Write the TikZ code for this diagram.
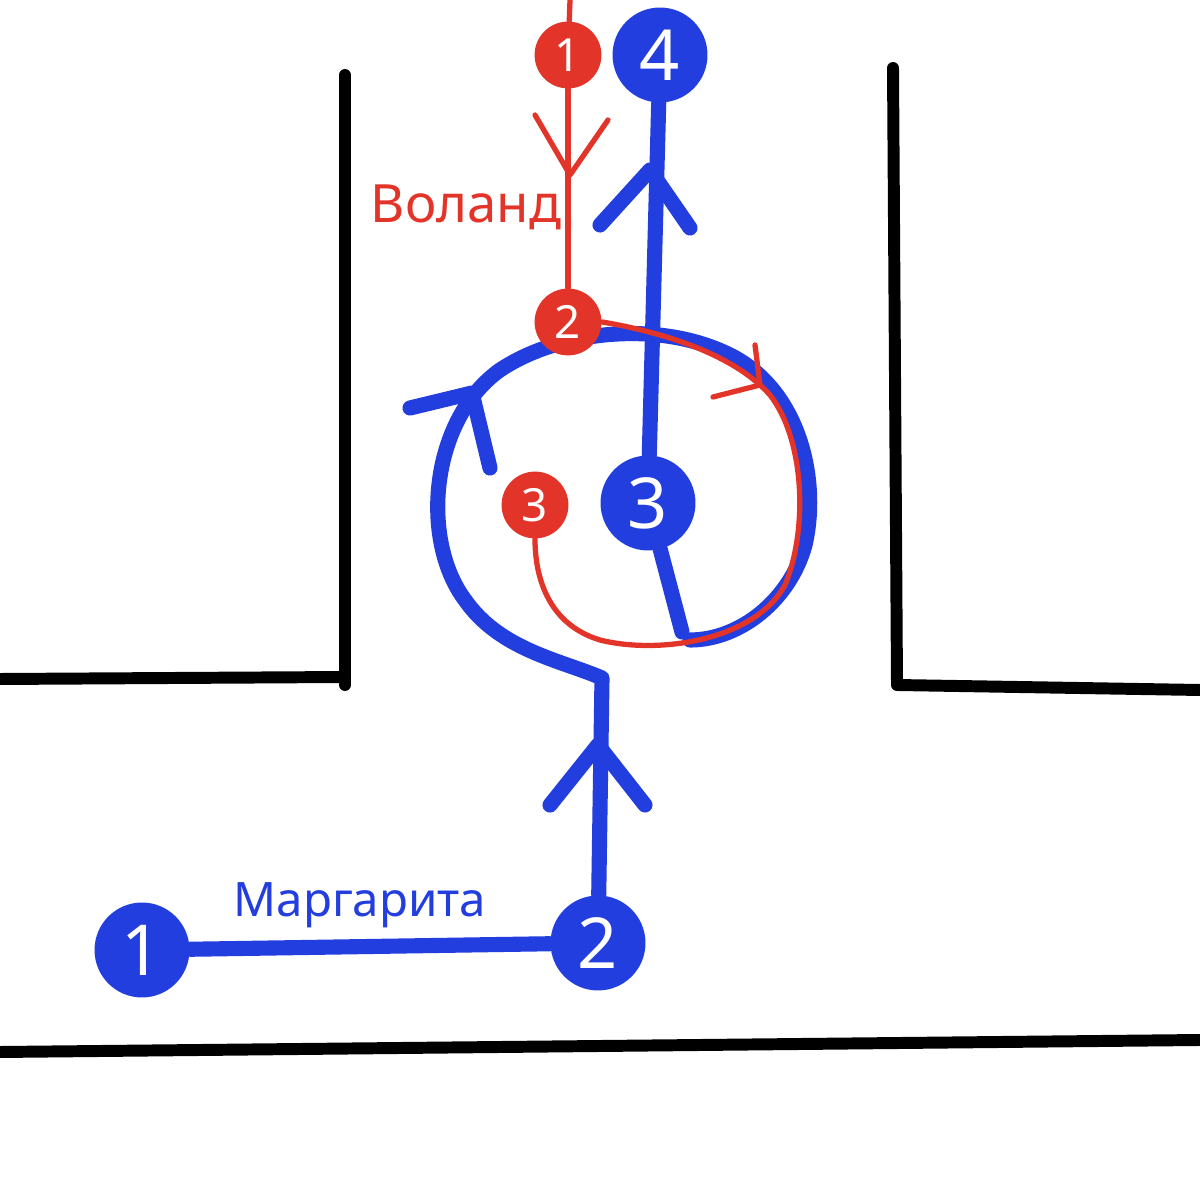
\documentclass[tikz,border=0pt]{standalone}
\usepackage{fontspec}
\setmainfont{Noto Sans}
\definecolor{bl}{RGB}{35,62,222}
\definecolor{rd}{RGB}{226,52,40}
\begin{document}
\begin{tikzpicture}[x=0.01cm,y=-0.01cm,line cap=round,line join=round,
 wall/.style={line width=3.4pt,black},
 bpath/.style={line width=4.3pt,bl},
 rpath/.style={line width=1.5pt,rd},
 bnode/.style={circle,fill=bl,minimum size=27pt,inner sep=0pt,text=white,font=\fontsize{20}{20}\selectfont},
 rnode/.style={circle,fill=rd,minimum size=19pt,inner sep=0pt,text=white,font=\fontsize{13}{13}\selectfont}]
\fill[white] (0,0) rectangle (1200,1180);
\useasboundingbox (0,0) rectangle (1200,1180);
% walls
\draw[wall] (345,75) -- (345,685);
\draw[wall] (0,679) -- (345,677);
\draw[wall] (893,68) -- (897,685) -- (1200,690);
\draw[wall] (0,1052) -- (1200,1040);
% coordinates
\coordinate (rtop) at (570,0);
\coordinate (bend) at (602,678);
\coordinate (bfoot) at (682,632);
% blue nodes
\node[bnode] (b1) at (142,950) {1};
\node[bnode] (b2) at (598,943) {2};
\node[bnode] (b3) at (648,503) {3};
\node[bnode] (b4) at (660,55) {4};
% blue paths
\draw[bpath] (b1) -- (b2);
\draw[bpath] (b2) -- (bend) .. controls (560,660) and (500,650) .. (465,600)
  .. controls (420,540) and (430,420) .. (500,370)
  .. controls (560,330) and (660,320) .. (730,355)
  .. controls (800,390) and (820,480) .. (805,545)
  .. controls (790,600) and (740,640) .. (690,640);
\draw[bpath] (b3) -- (bfoot);
\draw[bpath] (b3) -- (b4);
\draw[bpath] (550,805) -- (598,745) -- (645,805);
\draw[bpath] (600,225) -- (650,170) -- (690,228);
\draw[bpath] (410,408) -- (472,393) -- (490,468);
% red nodes
\node[rnode] (r1) at (568,55) {1};
\node[rnode] (r2) at (568,322) {2};
\node[rnode] (r3) at (535,505) {3};
\draw[rpath] (r1) -- (rtop);
\draw[rpath] (r1) -- (r2);
\draw[rpath] (r2.east) .. controls (650,330) and (730,350) .. (770,395)
  .. controls (805,440) and (808,530) .. (785,585)
  .. controls (755,640) and (660,655) .. (600,640)
  .. controls (550,625) and (535,580) .. (r3.south);
\draw[rpath] (535,115) -- (570,175) -- (608,120);
\draw[rpath] (713,397) -- (760,385) -- (755,345);
% labels
\node[text=rd,font=\fontsize{15}{15}\selectfont] (vl) at (466,207) {Воланд};
\node[text=bl,font=\fontsize{13.5}{13.5}\selectfont] (mg) at (360,905) {Маргарита};
\end{tikzpicture}
\end{document}
